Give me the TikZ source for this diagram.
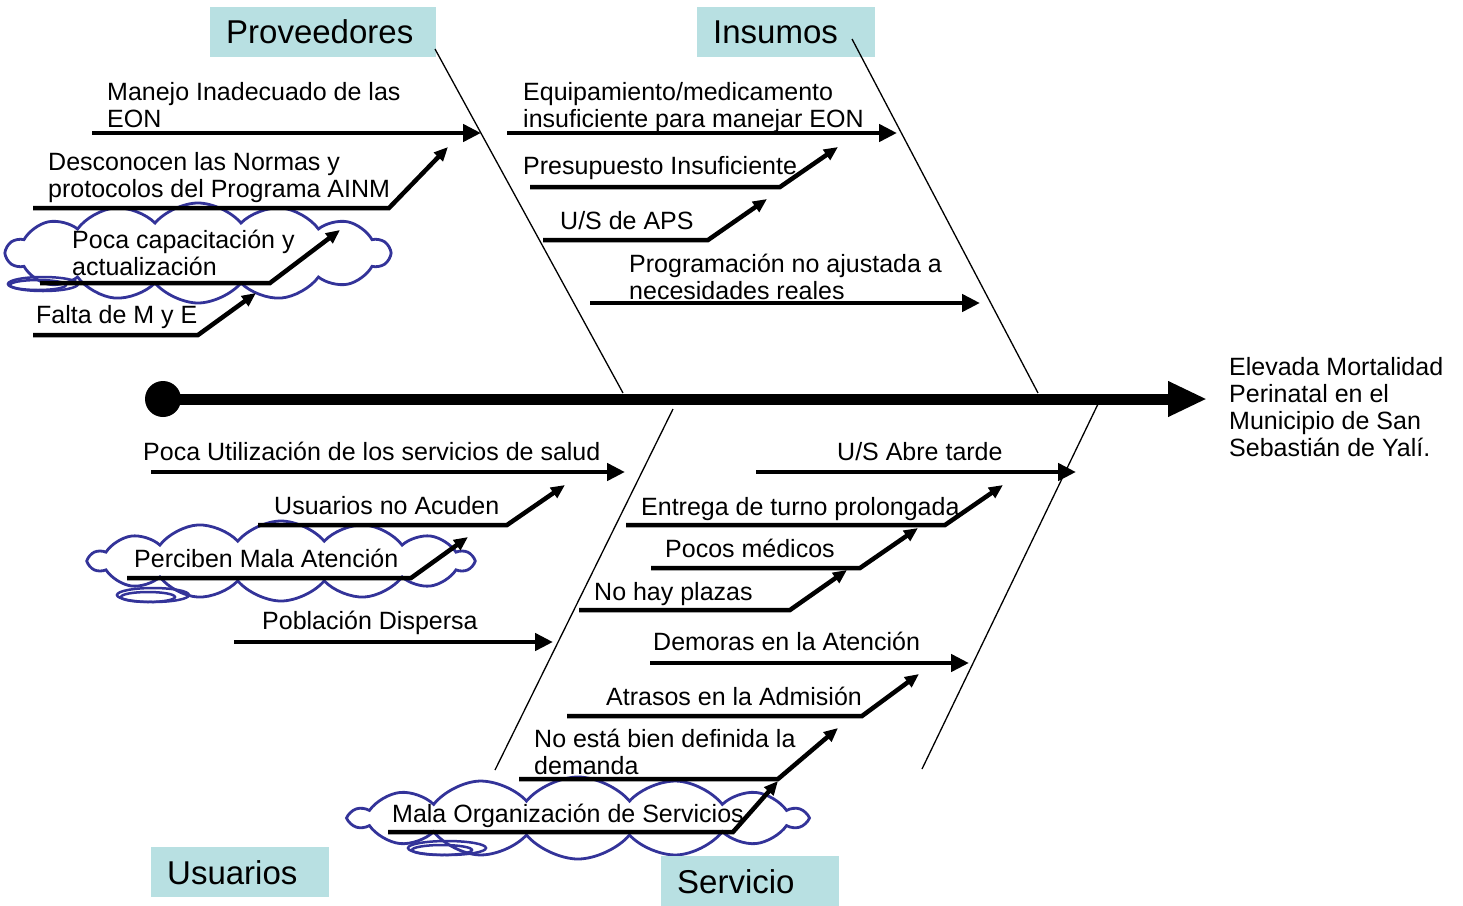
\documentclass[tikz,border=0pt]{standalone}
\usepackage{fontspec}
\setmainfont{Liberation Sans}
\usetikzlibrary{arrows.meta,shapes.symbols}
\definecolor{hdrfill}{RGB}{184,224,226}
\definecolor{cloudblue}{RGB}{51,51,153}
\begin{document}
\begin{tikzpicture}[x=1pt,y=-1pt,
  txt/.style={font=\fontsize{25}{27}\selectfont, inner sep=0pt, anchor=base west, align=left},
  hdr/.style={fill=hdrfill, font=\fontsize{33}{36}\selectfont, anchor=north west, inner xsep=16pt, inner ysep=0pt, minimum height=50pt, align=left},
  cloudsty/.style={cloud, cloud puffs=14, cloud puff arc=100, cloud ignores aspect, draw=cloudblue, line width=2.8pt, fill=white, inner sep=0pt},
  tailsty/.style={draw=cloudblue, line width=2.5pt},
  cause/.style={line width=4.5pt, -{Triangle[length=18pt,width=17pt]}},
  subcause/.style={line width=4.5pt, line join=miter, -{Triangle[length=14pt,width=12pt]}},
  bone/.style={line width=1.3pt},
  spine/.style={line width=11pt, -{Triangle[length=39pt,width=33pt]}}]
\useasboundingbox (0,0) rectangle (1463,905);

% clouds
\node[cloudsty, minimum width=383pt, minimum height=100pt] (cl1) at (198,253) {};
\node[cloudsty, minimum width=383pt, minimum height=80pt] (cl2) at (281,561) {};
\node[cloudsty, minimum width=455pt, minimum height=82pt] (cl3) at (578,818) {};
\draw[tailsty] (43,284) ellipse [x radius=35, y radius=7];
\draw[tailsty] (38,285) ellipse [x radius=28, y radius=5];
\draw[tailsty] (153,595) ellipse [x radius=36, y radius=7];
\draw[tailsty] (148,597) ellipse [x radius=27, y radius=5];
\draw[tailsty] (447,848) ellipse [x radius=39, y radius=7];
\draw[tailsty] (442,850) ellipse [x radius=30, y radius=5];

% headers
\node[hdr, text width=194pt] (prov) at (210,7) {Proveedores};
\node[hdr, text width=146pt] (insu) at (697,7) {Insumos};
\node[hdr, text width=146pt] (usua) at (151,847) {Usuarios};
\node[hdr, text width=146pt] (serv) at (661,856) {Servicio};

% bones
\draw[bone] (435,49) coordinate (b1a) -- (623,393) coordinate (b1b);
\draw[bone] (852,39) coordinate (b2a) -- (1038,393) coordinate (b2b);
\draw[bone] (673,409) coordinate (b3a) -- (495,770) coordinate (b3b);
\draw[bone] (1098,404) coordinate (b4a) -- (922,769) coordinate (b4b);

% spine
\node[circle, fill=black, minimum size=36pt, inner sep=0pt] (tail) at (163,399) {};
\coordinate (head) at (1207,399);
\draw[spine] (tail.center) -- (head);
\node[txt] (effect) at (1229,456) {Elevada Mortalidad\\Perinatal en el\\Municipio de San\\Sebastián de Yalí.};

% texts (base anchor = baseline of last line)
\node[txt] (t1) at (107,127) {Manejo Inadecuado de las\\EON};
\node[txt] (t2) at (48,197) {Desconocen las Normas y\\protocolos del Programa AINM};
\node[txt] (t3) at (72,275) {Poca capacitación y\\actualización};
\node[txt] (t4) at (36,323) {Falta de M y E};
\node[txt] (t5) at (523,127) {Equipamiento/medicamento\\insuficiente para manejar EON};
\node[txt] (t6) at (523,174) {Presupuesto Insuficiente};
\node[txt] (t7) at (560,229) {U/S de APS};
\node[txt] (t8) at (629,299) {Programación no ajustada a\\necesidades reales};
\node[txt] (t9) at (143,460) {Poca Utilización de los servicios de salud};
\node[txt] (t10) at (274,514) {Usuarios no Acuden};
\node[txt] (t11) at (134,567) {Perciben Mala Atención};
\node[txt] (t12) at (262,629) {Población Dispersa};
\node[txt] (t13) at (837,460) {U/S Abre tarde};
\node[txt] (t14) at (641,515) {Entrega de turno prolongada};
\node[txt] (t15) at (665,557) {Pocos médicos};
\node[txt] (t16) at (594,600) {No hay plazas};
\node[txt] (t17) at (653,650) {Demoras en la Atención};
\node[txt] (t18) at (606,705) {Atrasos en la Admisión};
\node[txt] (t19) at (534,774) {No está bien definida la\\demanda};
\node[txt] (t20) at (392,822) {Mala Organización de Servicios};

% cause arrows
\draw[cause] (92,133) coordinate (a1s) -- (481,133) coordinate (a1e);
\draw[subcause] (33,208) coordinate (a2s) -- (389,208) -- (448,147) coordinate (a2e);
\draw[subcause] (40,283) coordinate (a3s) -- (270,283) -- (340,230) coordinate (a3e);
\draw[subcause] (33,335) coordinate (a4s) -- (198,335) -- (256,293) coordinate (a4e);
\draw[cause] (507,133) coordinate (a5s) -- (897,133) coordinate (a5e);
\draw[subcause] (530,187) coordinate (a6s) -- (780,187) -- (838,147) coordinate (a6e);
\draw[subcause] (543,240) coordinate (a7s) -- (708,240) -- (767,199) coordinate (a7e);
\draw[cause] (590,303) coordinate (a8s) -- (980,303) coordinate (a8e);
\draw[cause] (151,472) coordinate (a9s) -- (625,472) coordinate (a9e);
\draw[subcause] (258,525) coordinate (a10s) -- (507,525) -- (565,485) coordinate (a10e);
\draw[subcause] (127,578) coordinate (a11s) -- (411,578) -- (468,537) coordinate (a11e);
\draw[cause] (234,642) coordinate (a12s) -- (553,642) coordinate (a12e);
\draw[cause] (756,472) coordinate (a13s) -- (1076,472) coordinate (a13e);
\draw[subcause] (626,525) coordinate (a14s) -- (945,525) -- (1003,485) coordinate (a14e);
\draw[subcause] (651,568) coordinate (a15s) -- (860,568) -- (918,528) coordinate (a15e);
\draw[subcause] (579,610) coordinate (a16s) -- (790,610) -- (847,570) coordinate (a16e);
\draw[cause] (650,663) coordinate (a17s) -- (969,663) coordinate (a17e);
\draw[subcause] (567,716) coordinate (a18s) -- (862,716) -- (919,674) coordinate (a18e);
\draw[subcause] (519,779) coordinate (a19s) -- (778,779) -- (838,728) coordinate (a19e);
\draw[subcause] (388,832) coordinate (a20s) -- (733,832) -- (778,781) coordinate (a20e);
\end{tikzpicture}
\end{document}
